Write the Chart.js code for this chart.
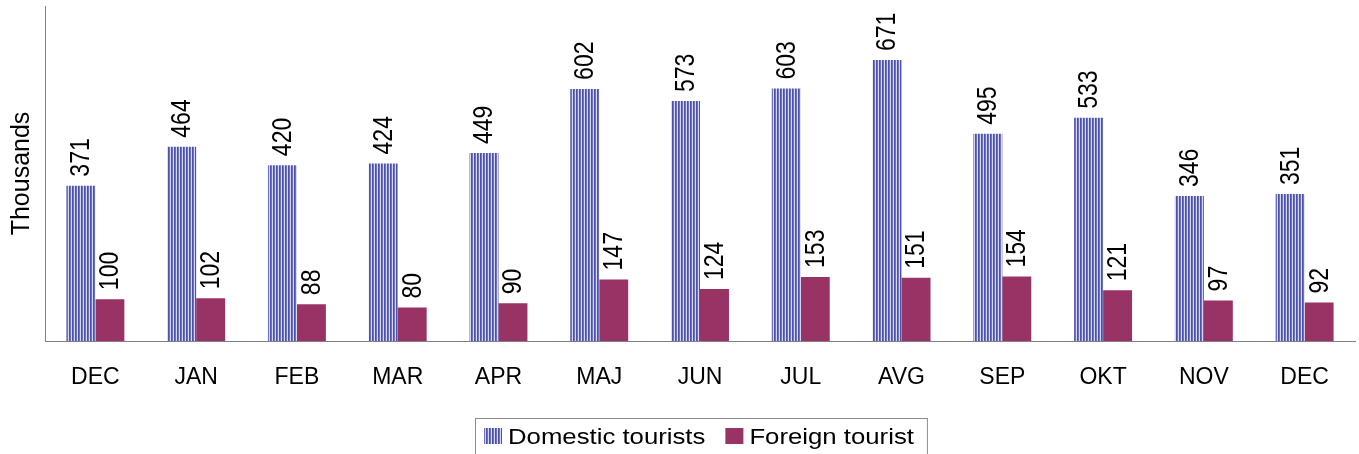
<!DOCTYPE html>
<html>
<head>
<meta charset="utf-8">
<script src="https://cdn.jsdelivr.net/npm/chart.js@4.4.1/dist/chart.umd.min.js"></script>
<style>
    html, body { margin: 0; padding: 0; background: #fff; }
    #wrap { width: 1359px; height: 454px; }
</style>
</head>
<body>
<div id="wrap"><canvas id="chart" width="1359" height="454"></canvas></div>
<script>
const months = ['DEC', 'JAN', 'FEB', 'MAR', 'APR', 'MAJ', 'JUN', 'JUL', 'AVG', 'SEP', 'OKT', 'NOV', 'DEC']
const domestic = [371, 464, 420, 424, 449, 602, 573, 603, 671, 495, 533, 346, 351]
const foreign = [100, 102, 88, 80, 90, 147, 124, 153, 151, 154, 121, 97, 92]

const FONT = 'Liberation Sans, Arial, sans-serif'
// text in the original is a bit wider than tall
const STRETCH = 1.17

// vertical stripes for the domestic bars
function stripes() {
    const c = document.createElement('canvas')
    c.width = 3
    c.height = 1
    const g = c.getContext('2d')
    g.fillStyle = '#4d51a8'
    g.fillRect(0, 0, 1, 1)
    g.fillStyle = '#6f73bd'
    g.fillRect(1, 0, 1, 1)
    g.fillStyle = '#d6d7f3'
    g.fillRect(2, 0, 1, 1)
    return g.createPattern(c, 'repeat')
}

const ctx = document.getElementById('chart').getContext('2d')
const stripePattern = stripes()

// value labels, rotated, above each bar
const barLabels = {
    id: 'barLabels',
    afterDatasetsDraw(chart) {
        const c = chart.ctx
        c.save()
        c.font = '23px ' + FONT
        c.fillStyle = '#000'
        c.textAlign = 'left'
        c.textBaseline = 'middle'
        chart.data.datasets.forEach((ds, i) => {
            chart.getDatasetMeta(i).data.forEach((bar, j) => {
                c.save()
                c.translate(bar.x + 1, bar.y - 9)
                c.rotate(-Math.PI / 2)
                c.scale(1, STRETCH)
                c.fillText(String(ds.data[j]), 0, 0)
                c.restore()
            })
        })
        c.restore()
    }
}

// boxed legend under the x axis
const boxLegend = {
    id: 'boxLegend',
    afterDraw(chart) {
        const c = chart.ctx
        const area = chart.chartArea
        const sets = chart.data.datasets
        const sw = 18, gapText = 6, gapItem = 20
        c.save()
        c.font = '22px ' + FONT
        const widths = sets.map(ds => c.measureText(ds.label).width * STRETCH)
        const total = sets.reduce((s, ds, i) => s + sw + gapText + widths[i], 0) + gapItem * (sets.length - 1)
        let x = Math.round((area.left + area.right) / 2 - total / 2 - 1)
        const base = 444
        // frame
        c.strokeStyle = '#8c8c8c'
        c.lineWidth = 1
        c.strokeRect(x - 8.5, 418.5, total + 22, 60)
        sets.forEach((ds, i) => {
            c.fillStyle = ds.backgroundColor
            c.fillRect(x, 428, sw, 16)
            x += sw + gapText
            c.save()
            c.translate(x, base)
            c.scale(STRETCH, 1)
            c.fillStyle = '#000'
            c.textBaseline = 'alphabetic'
            c.fillText(ds.label, 0, 0)
            c.restore()
            x += widths[i] + gapItem
        })
        c.restore()
    }
}

new Chart(ctx, {
    type: 'bar',
    data: {
        labels: months,
        datasets: [
            {
                label: 'Domestic tourists',
                data: domestic,
                backgroundColor: stripePattern,
                borderWidth: 0,
                barPercentage: 1,
                categoryPercentage: 0.575
            },
            {
                label: 'Foreign tourist',
                data: foreign,
                backgroundColor: '#993366',
                borderWidth: 0,
                barPercentage: 1,
                categoryPercentage: 0.575
            }
        ]
    },
    options: {
        responsive: false,
        animation: false,
        layout: { padding: { top: 6, right: 4, left: 0, bottom: 53 } },
        scales: {
            x: {
                grid: { display: false, drawTicks: false },
                border: { color: '#808080', width: 1 },
                ticks: { color: '#000', font: { family: FONT, size: 23 }, padding: 23 },
                afterFit(scale) { scale.height = 60 }
            },
            y: {
                min: 0,
                max: 800,
                grid: { display: false, drawTicks: false },
                border: { color: '#808080', width: 1 },
                ticks: { display: false },
                title: {
                    display: true,
                    text: 'Thousands',
                    color: '#000',
                    font: { family: FONT, size: 25 },
                    padding: { top: 7, bottom: 0 }
                },
                afterFit(scale) { scale.width = 45 }
            }
        },
        plugins: {
            legend: { display: false },
            tooltip: { enabled: false }
        }
    },
    plugins: [barLabels, boxLegend]
})
</script>
</body>
</html>
